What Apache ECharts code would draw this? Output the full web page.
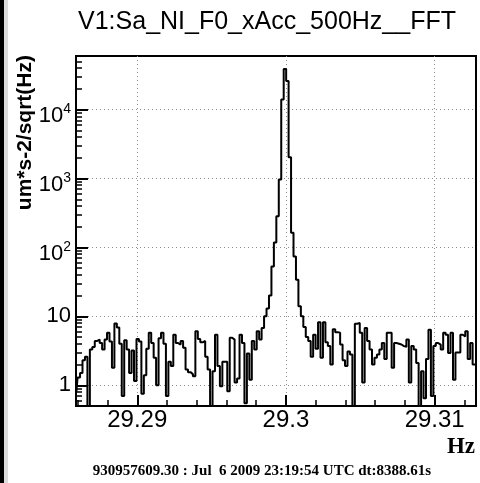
<!DOCTYPE html>
<html><head><meta charset="utf-8">
<script src="https://cdn.jsdelivr.net/npm/echarts@6/dist/echarts.min.js"></script>
<style>html,body{margin:0;padding:0;background:#fff}#c{width:480px;height:483px}</style>
</head><body><div id="c"></div>
<script>
const titleText = 'V1:Sa_NI_F0_xAcc_500Hz__FFT';
const yTitle = 'um*s-2/sqrt(Hz)';
const xUnit = 'Hz';
const footer = '930957609.30 : Jul  6 2009 23:19:54 UTC dt:8388.61s';

const xMin = 29.28588, xMax = 29.31278;
const yMin = 0.5, yMax = 60000;
const xMajorTicks = [29.29, 29.30, 29.31];
const xMajorLabels = ['29.29', '29.3', '29.31'];
const xMinorTicks = [29.286, 29.288, 29.292, 29.294, 29.296, 29.298, 29.302, 29.304, 29.306, 29.308, 29.312];
const yMajorTicks = [1, 10, 100, 1000, 10000];
const yLabelBase = ['1', '10', '10', '10', '10'];
const yLabelExp = ['', '', '2', '3', '4'];
const yMinorTicks = [0.6, 0.7, 0.8, 0.9,
  2, 3, 4, 5, 6, 7, 8, 9,
  20, 30, 40, 50, 60, 70, 80, 90,
  200, 300, 400, 500, 600, 700, 800, 900,
  2000, 3000, 4000, 5000, 6000, 7000, 8000, 9000,
  20000, 30000, 40000, 50000];

// FFT bins: centre of first bin and bin width (Hz)
const firstBinFreq = 29.28574;
const binWidth = 0.000165;
const amplitude = [
  0.8, 0.8, 1.3, 1.5, 2.3, 2.6, 0.5, 3.3, 3.6, 4.4,
  4.6, 4.1, 3.3, 4.6, 5.8, 4.3, 1.8, 7.9, 6.9, 4.0,
  0.7, 4.5, 3.3, 1.5, 3.2, 1.15, 4.7, 4.3, 0.75, 1.4,
  3.4, 5.8, 4.1, 2.5, 1.0, 4.8, 5.8, 4.0, 0.7, 2.2,
  1.9, 5.4, 4.1, 3.9, 4.4, 3.5, 1.7, 1.55, 1.45, 1.35,
  6.1, 4.7, 4.2, 4.4, 2.6, 1.7, 0.5, 1.6, 5.4, 1.9,
  0.97, 2.2, 2.2, 0.82, 4.9, 4.6, 1.1, 1.25, 5.4, 4.1,
  0.55, 2.9, 1.2, 4.4, 3.3, 6.1, 4.6, 6.8, 10, 13,
  20, 53, 118, 284, 970, 14000, 39000, 26000, 2040, 164,
  74, 34, 14, 10, 7, 5, 4.4, 2.6, 5.4, 3.4,
  8.2, 2.5, 8.2, 4.2, 3.7, 2.0, 6.5, 5.9, 5.8, 3.9,
  2.3, 1.9, 3.1, 2.8, 0.4, 7.8, 8.0, 5.8, 1.1, 6.8,
  4.4, 3.3, 2.0, 2.5, 2.8, 3.3, 4.1, 2.4, 5.8, 5.8,
  1.8, 4.1, 4.0, 3.9, 3.7, 3.6, 4.6, 1.1, 3.7, 3.3,
  2.1, 0.45, 1.6, 0.65, 2.4, 6.4, 0.7, 3.7, 4.1, 3.9,
  3.3, 5.8, 5.4, 2.95, 5.8, 1.2, 3.0, 3.0, 5.4, 5.1,
  6.1, 2.4, 4.1, 2.0, 2.0
];

const seriesData = amplitude.map((v, i) => [firstBinFreq + i * binWidth, v]);
const findIdx = (arr, v) => arr.findIndex(t => Math.abs(t - v) <= Math.abs(t) * 1e-6);
const dotted = {show: true, lineStyle: {color: '#8c8c8c', width: 1, type: [1, 3]}};
const sans = '"Liberation Sans", Arial, Helvetica, sans-serif';
const serif = '"Liberation Serif", "Times New Roman", serif';

const chart = echarts.init(document.getElementById('c'), null, {renderer: 'canvas'});
chart.setOption({
  animation: false,
  backgroundColor: '#fff',
  grid: {left: 76, right: 4, top: 56, bottom: 77, show: true, borderColor: '#000', borderWidth: 2, backgroundColor: 'transparent', containLabel: false},
  xAxis: [
    {type: 'value', min: xMin, max: xMax, position: 'bottom', axisLine: {show: false},
     axisTick: {show: true, inside: true, length: 11, customValues: xMajorTicks, lineStyle: {color: '#000', width: 2}},
     axisLabel: {show: true, customValues: xMajorTicks, color: '#000', fontSize: 24, fontFamily: sans, margin: 2,
       formatter: v => { const i = findIdx(xMajorTicks, v); return i >= 0 ? xMajorLabels[i] : ''; }},
     splitLine: dotted},
    {type: 'value', min: xMin, max: xMax, position: 'bottom', offset: 0, axisLine: {show: false},
     axisTick: {show: true, inside: true, length: 6, customValues: xMinorTicks, lineStyle: {color: '#000', width: 1.5}},
     axisLabel: {show: false}, splitLine: {show: false}}
  ],
  yAxis: [
    {type: 'log', logBase: 10, min: yMin, max: yMax, position: 'left', axisLine: {show: false},
     axisTick: {show: true, inside: true, length: 12, customValues: yMajorTicks, lineStyle: {color: '#000', width: 2}},
     axisLabel: {show: true, customValues: yMajorTicks, color: '#000', fontSize: 22, fontFamily: sans, margin: 5,
       formatter: v => {
         const i = findIdx(yMajorTicks, v);
         if (i < 0) return '';
         return yLabelExp[i] ? '{b|' + yLabelBase[i] + '}{s|' + yLabelExp[i] + '}' : yLabelBase[i];
       },
       rich: {
         b: {fontSize: 22, fontFamily: sans, color: '#000', lineHeight: 24, padding: [12, 0, 0, 0]},
         s: {fontSize: 14, fontFamily: sans, color: '#000', lineHeight: 14, padding: [11, 0, 11, 0]}
       }},
     splitLine: dotted},
    {type: 'log', logBase: 10, min: yMin, max: yMax, position: 'left', offset: 0, axisLine: {show: false},
     axisTick: {show: true, inside: true, length: 6, customValues: yMinorTicks, lineStyle: {color: '#000', width: 1.5}},
     axisLabel: {show: false}, splitLine: {show: false}}
  ],
  series: [{
    type: 'line', xAxisIndex: 0, yAxisIndex: 0, data: seriesData, step: 'middle',
    showSymbol: false, symbol: 'none', clip: true, z: 3,
    lineStyle: {color: '#000', width: 2}
  }],
  graphic: [
    {type: 'rect', left: 0, top: 0, shape: {width: 4, height: 483}, style: {fill: '#000'}, silent: true},
    {type: 'rect', left: 4, top: 0, shape: {width: 4, height: 483}, style: {fill: '#dcdcdc'}, silent: true},
    {type: 'text', x: 267, y: 22, style: {text: titleText, fill: '#000', font: '25px ' + sans, align: 'center', verticalAlign: 'middle'}},
    {type: 'text', x: 25, y: 55, rotation: Math.PI / 2, style: {text: yTitle, fill: '#000', font: 'bold 21px ' + sans, align: 'right', verticalAlign: 'middle'}},
    {type: 'text', x: 475, y: 447, style: {text: xUnit, fill: '#000', font: 'bold 23px ' + serif, align: 'right', verticalAlign: 'middle'}},
    {type: 'text', x: 262, y: 471, style: {text: footer, fill: '#000', font: 'bold 15px ' + serif, align: 'center', verticalAlign: 'middle'}}
  ]
});
</script></body></html>
